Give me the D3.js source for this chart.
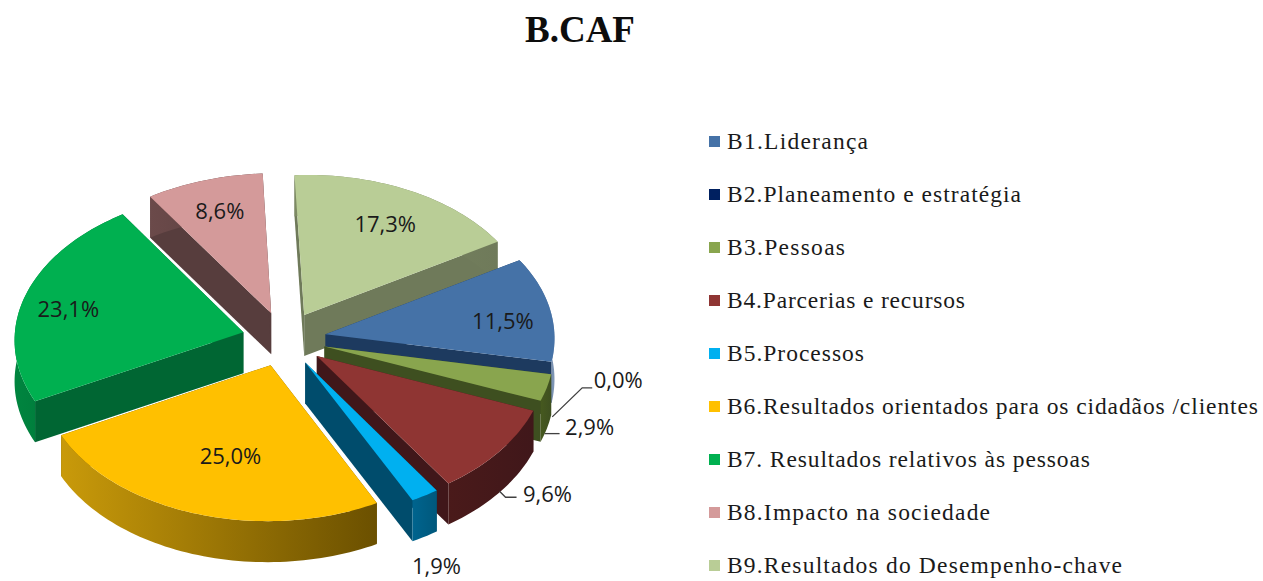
<!DOCTYPE html>
<html>
<head>
<meta charset="utf-8">
<title>B.CAF</title>
<script src="https://cdnjs.cloudflare.com/ajax/libs/d3/7.8.5/d3.min.js"></script>
<style>
html, body { margin: 0; padding: 0; background: #fff; overflow: hidden; }
svg { display: block; }
</style>
</head>
<body>
<div id="chart"></div>
<script>
var chartTitle = "B.CAF";
var categories = [
    "B1.Liderança",
    "B2.Planeamento e estratégia",
    "B3.Pessoas",
    "B4.Parcerias e recursos",
    "B5.Processos",
    "B6.Resultados orientados para os cidadãos /clientes",
    "B7. Resultados relativos às pessoas",
    "B8.Impacto na sociedade",
    "B9.Resultados do Desempenho-chave"
];
var shares = [11.5, 0.0, 2.9, 9.6, 1.9, 25.0, 23.1, 8.6, 17.3];

// colours, one per category
var topColors = ["#4572a7", "#002060", "#89a54e", "#8f3533", "#00b0f0", "#ffc000", "#00b050", "#d49a9a", "#b9cd96"];
var wallColors = ["#1d3a5f", "#001030", "#3e4f20", "#40171a", "#004c6c", "#6b5000", "#006633", "#573d3d", "#6f7a5a"];
var rimStartColors = ["#2a4f7c", "#001030", "#46591f", "#4a1a1a", "#00648e", "#c99a0a", "#00853f", "#6b4a4a", "#7d8a63"];
var rimEndColors = ["#7f96b5", "#001030", "#3e4f20", "#40171a", "#00587c", "#6b5000", "#006633", "#573d3d", "#6f7a5a"];

// layout
var width = 1263, height = 581;
var centerX = 284, centerY = 339;
var radiusX = 229, radiusY = 148;
var depth = 41;
var explode = 0.184;
var firstAngle = Math.PI / 3;
// where each percentage sits: distance along the slice middle, then a nudge in pixels
var labelRadius = [0.79, 1.29, 1.19, 1.255, 1.095, 0.54, 0.8, 0.76, 0.76];
var labelNudge = [7, 0, 31, 18, 57, 12, 6, 0, 4];
// leader lines, relative to the label
var leaders = {
    1: [[-66, 37], [-36, 8], [-26, 8]],
    2: [[-45, 7], [-30, 7]],
    3: [[-48, -3], [-42, 3], [-31, 3]]
};
var legendWidths = [141, 294, 118, 238, 137, 531, 363, 263, 395];

var svg = d3.select("#chart").append("svg")
    .attr("width", width)
    .attr("height", height);

var xScale = d3.scaleLinear().domain([-1, 1]).range([centerX - radiusX, centerX + radiusX]);
var yScale = d3.scaleLinear().domain([-1, 1]).range([centerY - radiusY, centerY + radiusY]);

var pie = d3.pie()
    .sort(null)
    .startAngle(firstAngle)
    .endAngle(firstAngle + 2 * Math.PI);
var arcs = pie(shares);

// flat pie coordinates -> screen, the front is a little larger than the back
function project(u, v, drop) {
    return [
        xScale(u * (1 + 0.035 * v)),
        yScale(v * (1 + 0.04 * v)) - 2 * u + (drop || 0)
    ];
}

function slicePoint(d, angle, r) {
    var mid = (d.startAngle + d.endAngle) / 2;
    return [
        explode * Math.sin(mid) + r * Math.sin(angle),
        -explode * Math.cos(mid) - r * Math.cos(angle)
    ];
}

function rimAngles(d) {
    var n = Math.max(2, Math.ceil((d.endAngle - d.startAngle) * 40));
    return d3.range(n + 1).map(function (i) {
        return d.startAngle + (d.endAngle - d.startAngle) * i / n;
    });
}

var line = d3.line();

function screen(d, angle, r, drop) {
    var p = slicePoint(d, angle, r);
    return project(p[0], p[1], drop);
}

function wallPath(d, angle) {
    return line([
        screen(d, angle, 0, 0),
        screen(d, angle, 1, 0),
        screen(d, angle, 1, depth),
        screen(d, angle, 0, depth)
    ]) + "Z";
}

function rimPath(d) {
    var angles = rimAngles(d);
    var upper = angles.map(function (a) { return screen(d, a, 1, 0); });
    var lower = angles.slice().reverse().map(function (a) { return screen(d, a, 1, depth); });
    return line(upper.concat(lower)) + "Z";
}

function topPath(d) {
    var pts = [screen(d, d.startAngle, 0, 0)];
    rimAngles(d).forEach(function (a) { pts.push(screen(d, a, 1, 0)); });
    return line(pts) + "Z";
}

var defs = svg.append("defs");
arcs.forEach(function (d, i) {
    var grad = defs.append("linearGradient")
        .attr("id", "rim" + i)
        .attr("x1", 0).attr("x2", 1).attr("y1", 0).attr("y2", 0);
    grad.append("stop").attr("offset", "0%").attr("stop-color", rimStartColors[i]);
    grad.append("stop").attr("offset", "100%").attr("stop-color", rimEndColors[i]);
});

// back slices first, the front ones paint over their neighbours walls
var paintOrder = [8, 7, 6, 0, 1, 2, 3, 4, 5];
var pieGroup = svg.append("g").attr("class", "pie");

paintOrder.forEach(function (i) {
    var d = arcs[i];
    if (d.value === 0) return;
    var g = pieGroup.append("g").attr("class", "slice");
    g.append("path").attr("d", wallPath(d, d.startAngle)).attr("fill", wallColors[i]);
    g.append("path").attr("d", wallPath(d, d.endAngle)).attr("fill", wallColors[i]);
    g.append("path").attr("d", rimPath(d)).attr("fill", "url(#rim" + i + ")");
    g.append("path").attr("d", topPath(d)).attr("fill", topColors[i]);
});

// data labels
var labelFormat = function (v) { return v.toFixed(1).replace(".", ",") + "%"; };
var labels = svg.append("g").attr("class", "labels");

arcs.forEach(function (d, i) {
    var mid = (d.startAngle + d.endAngle) / 2;
    var p = screen(d, mid, labelRadius[i], labelNudge[i]);
    if (leaders[i]) {
        labels.append("path")
            .attr("d", line(leaders[i].map(function (o) { return [p[0] + o[0], p[1] + o[1]]; })))
            .attr("fill", "none")
            .attr("stroke", "#404040")
            .attr("stroke-width", 1.3);
    }
    labels.append("text")
        .attr("x", p[0])
        .attr("y", p[1])
        .attr("dy", "0.36em")
        .attr("text-anchor", "middle")
        .style("font-family", "'Open Sans', sans-serif")
        .style("font-size", "22px")
        .style("fill", "#1a1a1a")
        .text(labelFormat(shares[i]));
});

// title
svg.append("text")
    .attr("x", 580)
    .attr("y", 42)
    .attr("text-anchor", "middle")
    .style("font-family", "'Liberation Serif', serif")
    .style("font-weight", "bold")
    .style("font-size", "37px")
    .style("fill", "#0d0d0d")
    .text(chartTitle);

// legend
var legendY = d3.scalePoint().domain(categories).range([142, 566]);
var legend = svg.append("g").attr("class", "legend");

categories.forEach(function (name, i) {
    legend.append("rect")
        .attr("x", 709)
        .attr("y", legendY(name) - 6)
        .attr("width", 11)
        .attr("height", 11)
        .attr("fill", topColors[i]);
    legend.append("text")
        .attr("x", 727)
        .attr("y", legendY(name) + 7)
        .attr("textLength", legendWidths[i])
        .attr("lengthAdjust", "spacing")
        .style("font-family", "'Liberation Serif', serif")
        .style("font-size", "23.5px")
        .style("fill", "#1a1a1a")
        .text(name);
});
</script>
</body>
</html>
